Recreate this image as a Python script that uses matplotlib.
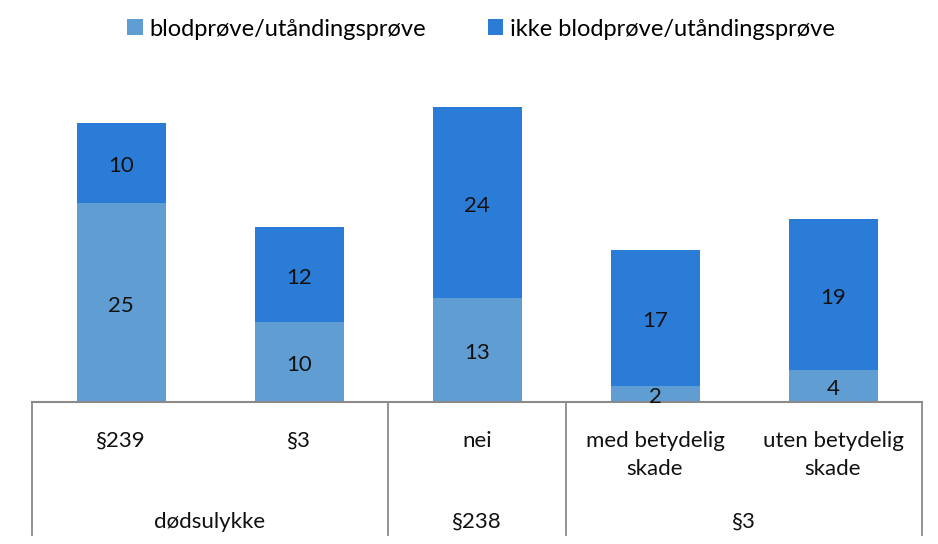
import numpy as np
import matplotlib
matplotlib.use("Agg")
import matplotlib.pyplot as plt
import matplotlib.transforms as mtransforms

plt.rcParams['font.family'] = ['Lato', 'DejaVu Sans']

categories = ["§239", "§3", "nei", "med betydelig\nskade", "uten betydelig\nskade"]
groups = ["dødsulykke", "§238", "§3"]
group_spans = [(0, 1), (2, 2), (3, 4)]
prove = [25, 10, 13, 2, 4]
ikke_prove = [10, 12, 24, 17, 19]
series_names = ["blodprøve/utåndingsprøve", "ikke blodprøve/utåndingsprøve"]

light = "#5f9dd3"
dark = "#2b7cd7"
line_col = "#8a8a8a"
fs = 16

fig = plt.figure(figsize=(9.38, 5.44), dpi=100)
ax = fig.add_axes([32 / 938, (544 - 402) / 544, 890 / 938, 319 / 544])

x = np.arange(len(categories))
b1 = ax.bar(x, prove, width=0.5, color=light, label=series_names[0])
b2 = ax.bar(x, ikke_prove, width=0.5, bottom=prove, color=dark, label=series_names[1])

for i in range(len(x)):
    ax.text(x[i], prove[i] / 2 - 0.4, str(prove[i]), ha="center", va="center", fontsize=fs, color="#111111")
    ax.text(x[i], prove[i] + ikke_prove[i] / 2 - 0.4, str(ikke_prove[i]), ha="center", va="center",
            fontsize=fs, color="#111111")

ax.set_xlim(-0.5, len(x) - 0.5)
ax.set_ylim(0, 40)
for s in ["top", "right", "left"]:
    ax.spines[s].set_visible(False)
ax.spines["bottom"].set_color(line_col)
ax.spines["bottom"].set_linewidth(1.5)
ax.set_yticks([])
ax.set_xticks([])

trans = mtransforms.blended_transform_factory(ax.transData, ax.transAxes)
bounds = [-0.5] + [g[1] + 0.5 for g in group_spans]
for b in bounds:
    ax.plot([b, b], [0, -0.417], color=line_col, lw=1.3, transform=trans, clip_on=False)

for i, c in enumerate(categories):
    ax.text(x[i], -0.09, c, ha="center", va="top", fontsize=fs, linespacing=1.5,
            transform=trans, color="#111111")

for g, (a, b) in zip(groups, group_spans):
    ax.text((a + b) / 2, -0.376, g, ha="center", va="center", fontsize=fs,
            transform=trans, color="#111111")

fig.legend(handles=[b1, b2], labels=series_names, loc="upper center", bbox_to_anchor=(0.513, 1.005),
           ncol=2, frameon=False, fontsize=17, handlelength=0.65, handleheight=0.65,
           handletextpad=0.3, columnspacing=2.6)

plt.savefig("out.png")
